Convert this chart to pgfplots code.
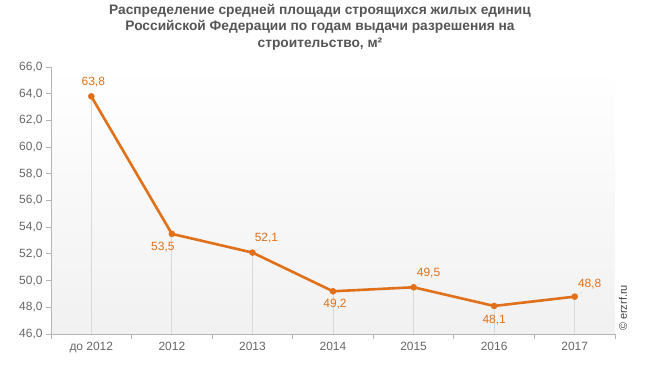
\documentclass[border=0pt]{standalone}
\usepackage{fontspec}
\setmainfont{Liberation Sans}
\usepackage{pgfplots}
\pgfplotsset{compat=1.18}
\usepackage{pgfplotstable}
\usetikzlibrary{calc}
\definecolor{lineor}{HTML}{E0701A}
\definecolor{tickc}{HTML}{666666}
\definecolor{axisc}{HTML}{B4B4B4}
\definecolor{titlec}{HTML}{555555}
\definecolor{bgbot}{HTML}{F1F1F1}
\pgfplotstableread{
x y lbl dx dy
0 63.8 63,8 2 14
1 53.5 53,5 -9 -13
2 52.1 52,1 14 14
3 49.2 49,2 2 -13
4 49.5 49,5 15 14
5 48.1 48,1 0 -14
6 48.8 48,8 15 13
}\data
\begin{document}
\begin{tikzpicture}
\begin{axis}[
  scale only axis, width=564bp, height=267bp,
  xmin=-0.5, xmax=6.5, ymin=46, ymax=66,
  axis x line*=bottom, axis y line*=left,
  axis line style={-, draw=axisc, line width=0.8bp},
  axis background/.style={shade, top color=white, bottom color=bgbot},
  ytick={46,48,...,66},
  tick align=outside, major tick length=5bp,
  tick style={draw=axisc, line width=0.8bp},
  xtick={-0.5,0.5,...,6.5}, xticklabels={},
  extra x ticks={0,1,2,3,4,5,6},
  extra x tick labels={до 2012,2012,2013,2014,2015,2016,2017},
  extra x tick style={tick style={draw=none}},
  ticklabel style={font=\fontsize{12}{14}\selectfont, text=tickc},
  /pgf/number format/assume math mode=true,
  yticklabel={\pgfmathprintnumber[fixed, fixed zerofill, precision=1, use comma]{\tick}},
  clip=true,
]
\addplot[ycomb, draw=black!15, line width=0.8bp, forget plot] table[x=x,y=y]{\data};
\draw[black!12, line width=0.6bp] (axis cs:2,52.1) -- ++(8bp,5bp);
\draw[black!12, line width=0.6bp] (axis cs:4,49.5) -- ++(8bp,5bp);
\draw[black!12, line width=0.6bp] (axis cs:6,48.8) -- ++(8bp,5bp);
\addplot[lineor, line width=2.6bp, mark=*, mark size=3bp,
  mark options={fill=lineor, draw=lineor, line width=0.5bp},
  visualization depends on={\thisrow{dx} \as \labdx},
  visualization depends on={\thisrow{dy} \as \labdy},
  nodes near coords, point meta=explicit symbolic,
  every node near coord/.append style={font=\fontsize{12}{14}\selectfont, text=lineor, anchor=center, xshift=\labdx bp, yshift=\labdy bp, inner sep=0pt},
] table[x=x,y=y,meta=lbl]{\data};
\end{axis}
\node[align=center, font=\fontsize{13.8}{16.5}\selectfont\bfseries, text=titlec] at ($(current axis.north)+(-13bp,40bp)$) {Распределение средней площади строящихся жилых единиц\\Российской Федерации по годам выдачи разрешения на\\строительство, м²};
\node[rotate=90, font=\fontsize{11}{13}\selectfont, text=black!75] at ($(current axis.south east)+(8bp,26bp)$) {© erzrf.ru};
\pgfresetboundingbox
\path ($(current axis.south west)+(-51bp,-32bp)$) rectangle ($(current axis.north east)+(33bp,67bp)$);
\end{tikzpicture}
\end{document}
